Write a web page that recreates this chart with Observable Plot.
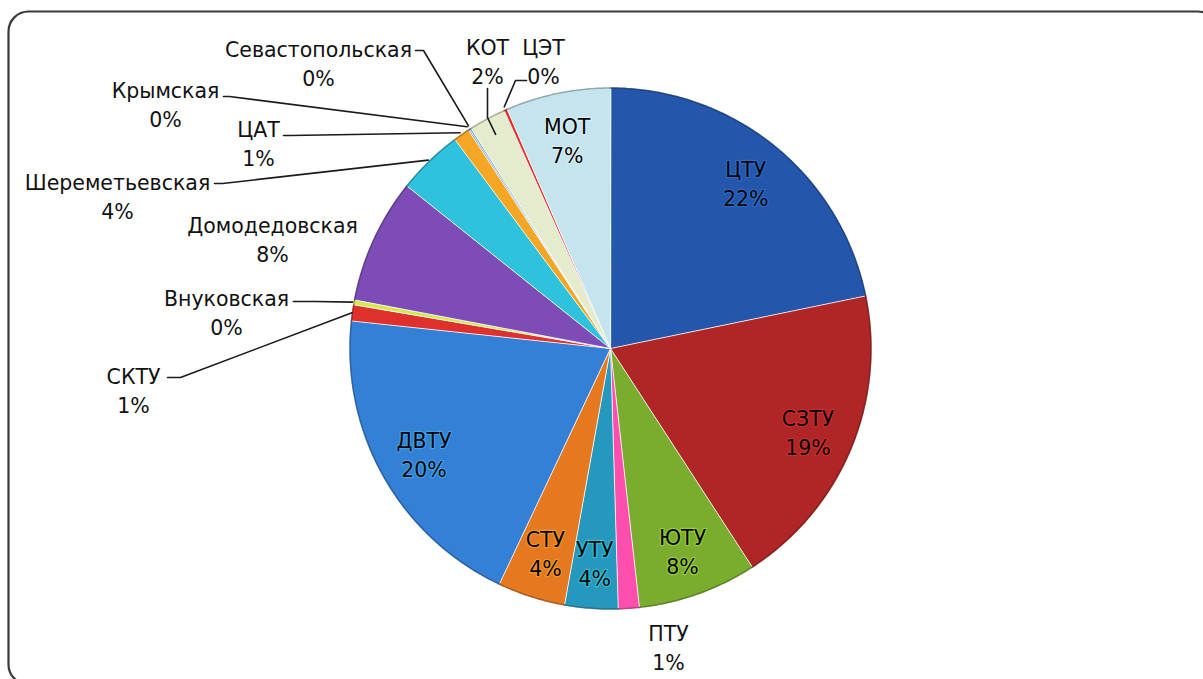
<!DOCTYPE html>
<html><head><meta charset="utf-8">
<script src="https://cdn.jsdelivr.net/npm/d3@7"></script>
<script src="https://cdn.jsdelivr.net/npm/@observablehq/plot@0.6"></script>
<style>html,body{margin:0;padding:0;background:#fff;overflow:hidden} svg{display:block}</style>
</head><body><div id="chart"></div>
<script>
// ---- data ----
const names = ["ЦТУ","СЗТУ","ЮТУ","ПТУ","УТУ","СТУ","ДВТУ","СКТУ","Внуковская","Домодедовская","Шереметьевская","ЦАТ","Крымская","Севастопольская","КОТ","ЦЭТ","МОТ"];
const shares = [21.8,19.1,7.4,1.3,3.3,4.2,19.7,1.0,0.3,7.75,4.1,1.0,0.1,0.1,2.3,0.2,6.5];
const pctLabels = ["22%","19%","8%","1%","4%","4%","20%","1%","0%","8%","4%","1%","0%","0%","2%","0%","7%"];
const colors = ["#2456ab","#b02525","#7aad2e","#ff4fae","#2698bd","#e6791f","#3380d6","#de302c","#d7e84c","#7d4cb6","#2ec2dc","#f5a623","#a0a0a0","#5b9bd5","#e4eccd","#e8312e","#c5e5ee"];
const insideNames = ["ЦТУ","СЗТУ","ЮТУ","УТУ","СТУ","ДВТУ","МОТ"];

// ---- layout (pixels) ----
const W = 1203, H = 679, CX = 610, CY = 348, R = 261, INSIDE_R = 214;
const outerLayout = {
  "Севастопольская": {x: 318, y: 62, path: [[415, 50], [423, 50]], r: R + 3},
  "Крымская":        {x: 165, y: 103, path: [[223, 96], [229, 96]], r: R + 3},
  "ЦАТ":             {x: 258, y: 142, path: [[283, 135], [290, 135]], r: R + 2},
  "Шереметьевская":  {x: 117, y: 195, path: [[214, 183], [222, 183]], r: R + 1},
  "Домодедовская":   {x: 272, y: 238, path: null},
  "Внуковская":      {x: 226, y: 311, path: [[293, 301], [315, 301]], r: R + 1},
  "СКТУ":            {x: 133, y: 389, path: [[167, 377], [180, 377]], r: R},
  "ПТУ":             {x: 668, y: 646, path: null},
  "КОТ":             {x: 487, y: 60, path: [[487, 88], [487, 117]], r: R - 18},
  "ЦЭТ":             {x: 543, y: 60, path: [[526, 80], [515, 80]], r: R + 3}
};

// ---- geometry via d3.pie ----
const pie = d3.pie().sort(null).value(d => d.value)(names.map((n, i) => ({name: n, value: shares[i], pct: pctLabels[i], color: colors[i]})));
const pt = (a, r) => ({x: CX + r * Math.sin(a), y: CY - r * Math.cos(a)});

const slicePts = [];
for (const s of pie) {
  const d = s.data;
  slicePts.push({name: d.name, color: d.color, ...pt(0, 0)});
  const n = Math.max(2, Math.ceil((s.endAngle - s.startAngle) / (Math.PI / 360)));
  for (let k = 0; k <= n; k++) {
    const a = s.startAngle + (s.endAngle - s.startAngle) * k / n;
    slicePts.push({name: d.name, color: d.color, ...pt(a, R)});
  }
}
const rimPts = [];
for (const s of pie) {
  const n = Math.max(2, Math.ceil((s.endAngle - s.startAngle) / (Math.PI / 360)));
  for (let k = 0; k <= n; k++) {
    const a = s.startAngle + (s.endAngle - s.startAngle) * k / n;
    rimPts.push({name: s.data.name, color: d3.color(s.data.color).darker(1.2).formatHex(), ...pt(a, R - 0.5)});
  }
}
const mid = s => (s.startAngle + s.endAngle) / 2;

const insideLabels = pie.filter(s => insideNames.includes(s.data.name)).map(s => ({
  ...pt(mid(s), INSIDE_R), text: s.data.name + "\n" + s.data.pct,
  halo: d3.color(s.data.color).brighter(1.5).formatHex()
}));
const outsideLabels = pie.filter(s => outerLayout[s.data.name]).map(s => ({
  x: outerLayout[s.data.name].x, y: outerLayout[s.data.name].y,
  text: s.data.name + "\n" + s.data.pct
}));
const leaderPts = [];
for (const s of pie) {
  const L = outerLayout[s.data.name];
  if (!L || !L.path) continue;
  for (const [x, y] of L.path) leaderPts.push({name: s.data.name, x, y});
  leaderPts.push({name: s.data.name, ...pt(mid(s), L.r)});
}

const chart = Plot.plot({
  width: W, height: H, margin: 0,
  x: {domain: [0, W], range: [0, W], axis: null},
  y: {domain: [0, H], range: [0, H], axis: null},
  color: {type: "identity"},
  style: {fontFamily: "'DejaVu Sans', sans-serif", background: "white", overflow: "visible"},
  marks: [
    Plot.frame({stroke: "#3a3a3a", strokeWidth: 2.2, rx: 20, insetLeft: 8, insetTop: 11, insetRight: -14, insetBottom: -5}),
    Plot.line(slicePts, {x: "x", y: "y", z: "name", fill: "color", stroke: "white", strokeWidth: 1, strokeOpacity: 0.75, curve: "linear-closed"}),
    Plot.line(rimPts, {x: "x", y: "y", z: "name", stroke: "color", strokeWidth: 1.5, strokeOpacity: 0.8}),
    Plot.line(leaderPts, {x: "x", y: "y", z: "name", stroke: "#1a1a1a", strokeWidth: 1.6}),
    Plot.text(insideLabels, {x: "x", y: "y", text: "text", fontSize: 20.5, lineHeight: 1.42, fill: "#050505", stroke: "halo", strokeWidth: 2.5, strokeOpacity: 0.35}),
    Plot.text(outsideLabels, {x: "x", y: "y", text: "text", fontSize: 20.5, lineHeight: 1.42, fill: "#111"})
  ]
});
document.getElementById("chart").appendChild(chart);
</script>
</body></html>
